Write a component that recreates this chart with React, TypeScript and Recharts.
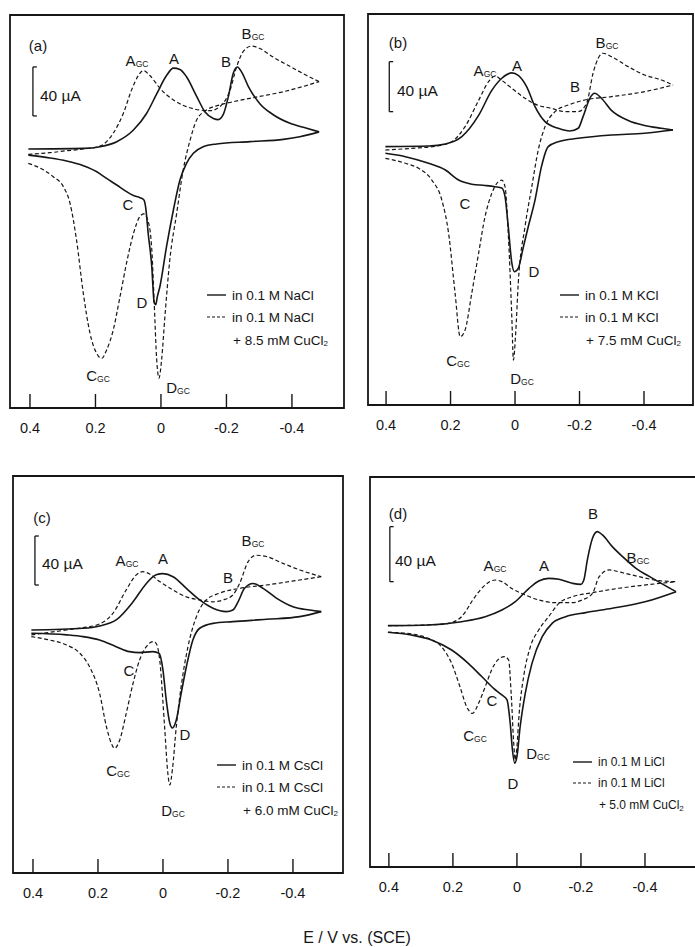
import React from "react";
import { LineChart, Line, XAxis, YAxis, ReferenceArea, ReferenceLine } from "recharts";

type Pt = [number, number]; // [E / V, I / µA]

const xTicks = [0.4, 0.2, 0, -0.2, -0.4];

// (a) 0.1 M NaCl
const aSolidFwd: Pt[] = [
  [0.405, 0], [0.237, 0.5], [0.186, 1.9], [0.135, 6], [0.084, 15.5], [0.044, 29], [0.013, 45],
  [-0.017, 60], [-0.038, 66], [-0.058, 65], [-0.078, 59], [-0.109, 43], [-0.134, 30.5], [-0.16, 25],
  [-0.175, 24], [-0.19, 28], [-0.206, 43], [-0.221, 62], [-0.233, 67], [-0.246, 63], [-0.267, 51],
  [-0.302, 37], [-0.343, 28], [-0.394, 21], [-0.445, 17], [-0.483, 14],
];
const aSolidRev: Pt[] = [
  [0.405, -5], [0.339, -7.3], [0.288, -9.8], [0.237, -13.6], [0.196, -18.5], [0.166, -24], [0.135, -29.4],
  [0.105, -34.8], [0.084, -38], [0.064, -39.7], [0.052, -41.6], [0.047, -47], [0.039, -68.8], [0.028, -96],
  [0.021, -124.6], [0.016, -127], [0.011, -120.5], [0.003, -112], [-0.017, -79.7], [-0.038, -49.8],
  [-0.058, -25.3], [-0.078, -11.7], [-0.099, -3.5], [-0.129, 1.9], [-0.17, 4.1], [-0.272, 6], [-0.374, 7.9],
  [-0.424, 10], [-0.483, 14],
];
const aDashFwd: Pt[] = [
  [0.405, -4.4], [0.339, -3], [0.288, -1.4], [0.237, 0], [0.186, 2.4], [0.146, 12.8], [0.115, 29],
  [0.09, 48], [0.069, 60], [0.054, 64], [0.034, 60], [0.003, 49.5], [-0.038, 40], [-0.078, 34.6],
  [-0.119, 31.8], [-0.15, 31.3], [-0.18, 34.6], [-0.211, 48], [-0.231, 67], [-0.251, 79.5], [-0.277, 84],
  [-0.302, 82], [-0.343, 75], [-0.404, 66], [-0.445, 60], [-0.483, 55],
];
const aDashRev: Pt[] = [
  [0.405, -11.7], [0.359, -17], [0.329, -22.6], [0.298, -30.7], [0.278, -44], [0.258, -74], [0.237, -118],
  [0.217, -150], [0.196, -167], [0.181, -171], [0.166, -164], [0.146, -148], [0.125, -120.5], [0.105, -93],
  [0.084, -69], [0.064, -55], [0.052, -53], [0.039, -59], [0.028, -82], [0.021, -123], [0.013, -172],
  [0.006, -187], [-0.002, -172], [-0.012, -137], [-0.027, -90.6], [-0.048, -52.5], [-0.068, -17],
  [-0.089, 7.3], [-0.109, 23.7], [-0.139, 31.8], [-0.18, 36], [-0.221, 38.6], [-0.272, 41.4],
  [-0.323, 44], [-0.374, 46.8], [-0.424, 50.3], [-0.483, 55],
];

// (b) 0.1 M KCl
const bSolidFwd: Pt[] = [
  [0.402, 0], [0.268, 0.5], [0.216, 2.1], [0.165, 8], [0.113, 25], [0.072, 45], [0.041, 54.7], [0.01, 59],
  [-0.01, 57], [-0.036, 48], [-0.062, 32], [-0.093, 20], [-0.134, 14.7], [-0.17, 12.5], [-0.196, 14.7],
  [-0.211, 24], [-0.232, 38.7], [-0.247, 42.7], [-0.268, 38.7], [-0.299, 29], [-0.351, 21], [-0.402, 17],
  [-0.454, 14.7], [-0.49, 13.3],
];
const bSolidRev: Pt[] = [
  [0.402, -5.3], [0.34, -8], [0.268, -13.3], [0.216, -18.7], [0.175, -26.7], [0.134, -30], [0.093, -31],
  [0.062, -32], [0.041, -33], [0.031, -40], [0.021, -64], [0.01, -93], [0.002, -100], [-0.01, -97.3],
  [-0.026, -80], [-0.041, -64], [-0.062, -42.7], [-0.082, -16], [-0.103, 0], [-0.134, 4], [-0.196, 6.7],
  [-0.299, 9.3], [-0.402, 10.7], [-0.49, 13.3],
];
const bDashFwd: Pt[] = [
  [0.402, -2.7], [0.32, -1.3], [0.237, 0.8], [0.196, 4], [0.155, 16], [0.113, 37], [0.082, 52],
  [0.062, 56.5], [0.041, 53], [0.01, 46.7], [-0.031, 38.7], [-0.072, 33], [-0.113, 30.7], [-0.155, 28],
  [-0.196, 28], [-0.222, 34.7], [-0.242, 58.7], [-0.258, 70.7], [-0.273, 74.7], [-0.299, 72],
  [-0.351, 64], [-0.402, 57.3], [-0.454, 53.3], [-0.49, 49.3],
];
const bDashRev: Pt[] = [
  [0.402, -9.3], [0.34, -13.3], [0.299, -17.3], [0.258, -26.7], [0.227, -42.7], [0.206, -69.3],
  [0.186, -117], [0.17, -152], [0.155, -146.7], [0.134, -117], [0.113, -85.3], [0.093, -56],
  [0.072, -37.3], [0.052, -28], [0.041, -26.7], [0.031, -32], [0.021, -69.3], [0.01, -136],
  [0.005, -170.7], [-0.002, -149.3], [-0.01, -109.3], [-0.031, -64], [-0.052, -32], [-0.072, -2.7],
  [-0.093, 16], [-0.124, 28], [-0.165, 33.3], [-0.216, 37.3], [-0.299, 40], [-0.402, 44], [-0.49, 49.3],
];

// (c) 0.1 M CsCl
const cSolidFwd: Pt[] = [
  [0.405, 0], [0.246, 1.4], [0.195, 3.3], [0.144, 8.2], [0.092, 23], [0.051, 38], [0.021, 45], [0, 46],
  [-0.031, 43.5], [-0.072, 34], [-0.113, 24.5], [-0.154, 17.7], [-0.195, 15], [-0.215, 16.3],
  [-0.231, 23], [-0.251, 34], [-0.277, 38], [-0.308, 34], [-0.349, 26], [-0.4, 19], [-0.451, 16.3],
  [-0.487, 15],
];
const cSolidRev: Pt[] = [
  [0.405, -2.7], [0.297, -4], [0.246, -5.4], [0.195, -8.2], [0.144, -13.6], [0.103, -17.7], [0.072, -18.5],
  [0.031, -17.7], [0.012, -19], [0, -32.7], [-0.01, -57], [-0.021, -76], [-0.029, -80], [-0.041, -73.5],
  [-0.056, -51.7], [-0.072, -30], [-0.092, -8.2], [-0.113, 1.4], [-0.154, 5.4], [-0.215, 6.8],
  [-0.318, 8.7], [-0.421, 10.9], [-0.487, 15],
];
const cDashFwd: Pt[] = [
  [0.405, -4], [0.297, 0], [0.246, 1.9], [0.195, 4.9], [0.154, 13.6], [0.113, 32.7], [0.082, 45],
  [0.062, 47.6], [0.041, 45.7], [0.01, 39.5], [-0.031, 32.7], [-0.072, 27], [-0.113, 24.5], [-0.154, 23],
  [-0.185, 24.5], [-0.215, 28.6], [-0.236, 38], [-0.262, 55.8], [-0.287, 61], [-0.318, 60],
  [-0.369, 54.4], [-0.421, 49], [-0.487, 43.5],
];
const cDashRev: Pt[] = [
  [0.405, -5.4], [0.349, -8.2], [0.297, -12.2], [0.256, -19], [0.226, -30], [0.195, -51.7], [0.174, -79],
  [0.159, -92.5], [0.149, -96.6], [0.133, -89.8], [0.113, -68], [0.092, -43.5], [0.072, -24.5],
  [0.051, -13.6], [0.031, -9.5], [0.021, -10.9], [0.01, -24.5], [-0.005, -79], [-0.015, -117],
  [-0.021, -126.5], [-0.029, -114], [-0.041, -79], [-0.056, -46], [-0.077, -13.6], [-0.103, 10.9],
  [-0.133, 24.5], [-0.174, 30], [-0.236, 34], [-0.318, 36.7], [-0.421, 40.8], [-0.487, 43.5],
];

// (d) 0.1 M LiCl
const dSolidFwd: Pt[] = [
  [0.403, 0], [0.277, 0.5], [0.173, 2.9], [0.099, 6.5], [0.047, 11.4], [0.005, 17.5], [-0.037, 27],
  [-0.068, 32.5], [-0.099, 34.4], [-0.131, 33.7], [-0.173, 30.8], [-0.199, 30], [-0.209, 33.2],
  [-0.22, 47.8], [-0.236, 63.5], [-0.251, 68.4], [-0.267, 66], [-0.298, 57.5], [-0.33, 50.2],
  [-0.372, 41.7], [-0.424, 34.4], [-0.497, 24.7],
];
const dSolidRev: Pt[] = [
  [0.403, -4.8], [0.33, -6.8], [0.267, -10.4], [0.204, -17.7], [0.152, -27.4], [0.11, -37], [0.073, -45.6],
  [0.047, -50.4], [0.031, -54], [0.021, -71], [0.014, -90.4], [0.007, -100], [0, -95.3], [-0.01, -73.5],
  [-0.026, -49.2], [-0.047, -27.4], [-0.079, -8], [-0.11, 1.7], [-0.152, 6.5], [-0.215, 9.5],
  [-0.298, 12.6], [-0.403, 17.5], [-0.497, 24.7],
];
const dDashFwd: Pt[] = [
  [0.403, 0], [0.277, 0.5], [0.215, 1.7], [0.173, 6.5], [0.131, 21], [0.099, 29.6], [0.068, 33.2],
  [0.047, 32], [0.016, 27], [-0.026, 22.3], [-0.068, 18.7], [-0.12, 16.7], [-0.173, 16.7], [-0.204, 18.7],
  [-0.236, 23.5], [-0.257, 35.6], [-0.288, 40.5], [-0.33, 38.5], [-0.382, 35.6], [-0.445, 32.7],
  [-0.497, 32],
];
const dDashRev: Pt[] = [
  [0.403, -4.8], [0.33, -6], [0.277, -9.2], [0.236, -15.3], [0.204, -27.4], [0.178, -44.4], [0.157, -58.9],
  [0.139, -63.8], [0.12, -56.5], [0.099, -44.4], [0.079, -32.2], [0.058, -24.5], [0.039, -22.5],
  [0.026, -25], [0.018, -49.2], [0.01, -85.6], [0.005, -97.7], [0, -88], [-0.007, -63.8], [-0.021, -37],
  [-0.042, -15.3], [-0.068, -3.2], [-0.099, 6.5], [-0.131, 16.2], [-0.173, 21], [-0.236, 24],
  [-0.319, 27.2], [-0.403, 29.6], [-0.497, 32],
];

// 40 µA scale bars: [E, I] at the low and high end
const aBar: Pt[] = [[0.391, 27], [0.391, 67]];
const bBar: Pt[] = [[0.39, 28], [0.39, 68]];
const cBar: Pt[] = [[0.394, 36.7], [0.394, 76.7]];
const dBar: Pt[] = [[0.397, 32], [0.397, 72]];

const INK = "#161616";
const FONT = "'Liberation Sans', Arial, Helvetica, sans-serif";

type PanelDef = {
  left: number;
  top: number;
  width: number;
  plotH: number;
  xDomain: [number, number];
  yDomain: [number, number];
  solid: Pt[][];
  dashed: Pt[][];
  bar: Pt[];
};

const panels: PanelDef[] = [
  { left: 10, top: 15, width: 334, plotH: 393, xDomain: [-0.559, 0.461], yDomain: [-211.4, 109.4],
    solid: [aSolidFwd, aSolidRev], dashed: [aDashFwd, aDashRev], bar: aBar },
  { left: 368, top: 14, width: 325, plotH: 391, xDomain: [-0.552, 0.456], yDomain: [-206.6, 106.1],
    solid: [bSolidFwd, bSolidRev], dashed: [bDashFwd, bDashRev], bar: bBar },
  { left: 13, top: 476, width: 330, plotH: 397, xDomain: [-0.554, 0.4615], yDomain: [-198.4, 125.7],
    solid: [cSolidFwd, cSolidRev], dashed: [cDashFwd, cDashRev], bar: cBar },
  { left: 370, top: 477, width: 327, plotH: 390, xDomain: [-0.5625, 0.459], yDomain: [-175.5, 108.1],
    solid: [dSolidFwd, dSolidRev], dashed: [dDashFwd, dDashRev], bar: dBar },
];

const toRows = (pts: Pt[]) => pts.map(([e, i]) => ({ e, i }));

function AxisTick(props: any) {
  const { x, y, payload } = props;
  const v = payload.value as number;
  return (
    <g>
      <line x1={x} x2={x} y1={y} y2={y - 14} stroke={INK} strokeWidth={1.4} />
      <text x={x} y={y + 20} textAnchor="middle" dominantBaseline="central" fontSize={14.5} fontFamily={FONT} fill={INK}>
        {v === 0 ? "0" : v.toFixed(1)}
      </text>
    </g>
  );
}

function Panel({ p }: { p: PanelDef }) {
  const [barLo, barHi] = p.bar;
  const serif = 0.012;
  return (
    <div style={{ position: "absolute", left: p.left - 2, top: p.top - 2 }}>
      <LineChart width={p.width + 4} height={p.plotH + 34} margin={{ top: 2, right: 2, left: 2, bottom: 0 }}>
        <XAxis
          type="number"
          dataKey="e"
          domain={p.xDomain}
          reversed
          allowDataOverflow
          ticks={xTicks}
          interval={0}
          tickLine={false}
          axisLine={false}
          tickSize={0}
          tickMargin={0}
          height={32}
          tick={(tp: any) => <AxisTick {...tp} />}
        />
        <YAxis type="number" domain={p.yDomain} hide allowDataOverflow />
        <ReferenceArea
          x1={p.xDomain[0]}
          x2={p.xDomain[1]}
          y1={p.yDomain[0]}
          y2={p.yDomain[1]}
          fill="none"
          fillOpacity={0}
          stroke={INK}
          strokeWidth={1.8}
          ifOverflow="visible"
        />
        <ReferenceLine segment={[{ x: barLo[0], y: barLo[1] }, { x: barHi[0], y: barHi[1] }]} stroke={INK} strokeWidth={1.3} />
        <ReferenceLine segment={[{ x: barLo[0], y: barLo[1] }, { x: barLo[0] - serif, y: barLo[1] }]} stroke={INK} strokeWidth={1.3} />
        <ReferenceLine segment={[{ x: barHi[0], y: barHi[1] }, { x: barHi[0] - serif, y: barHi[1] }]} stroke={INK} strokeWidth={1.3} />
        {p.solid.map((pts, k) => (
          <Line
            key={`s${k}`}
            data={toRows(pts)}
            dataKey="i"
            type="monotone"
            stroke={INK}
            strokeWidth={1.6}
            dot={false}
            isAnimationActive={false}
          />
        ))}
        {p.dashed.map((pts, k) => (
          <Line
            key={`d${k}`}
            data={toRows(pts)}
            dataKey="i"
            type="monotone"
            stroke={INK}
            strokeWidth={1.2}
            strokeDasharray="4 2.5"
            dot={false}
            isAnimationActive={false}
          />
        ))}
      </LineChart>
    </div>
  );
}

// peak labels: [main, subscript, x, y]
const peakLabels: [string, string, number, number][] = [
  ["(a)", "", 38, 45], ["A", "GC", 137, 60], ["A", "", 174, 58], ["B", "", 226, 61], ["B", "GC", 253, 33],
  ["C", "", 128, 204], ["D", "", 142, 302], ["C", "GC", 98, 375], ["D", "GC", 178, 387],
  ["(b)", "", 398, 42], ["A", "GC", 485, 70], ["A", "", 517, 65], ["B", "", 575, 86], ["B", "GC", 607, 42],
  ["C", "", 465, 203], ["D", "", 534, 271], ["C", "GC", 458, 360], ["D", "GC", 522, 378],
  ["(c)", "", 42, 517], ["A", "GC", 127, 560], ["A", "", 163, 558], ["B", "", 228, 577], ["B", "GC", 253, 540],
  ["C", "", 129, 670], ["D", "", 185, 734], ["C", "GC", 118, 770], ["D", "GC", 173, 810],
  ["(d)", "", 398, 513], ["A", "GC", 495, 565], ["A", "", 544, 565], ["B", "", 593, 513], ["B", "GC", 638, 557],
  ["C", "", 492, 700], ["C", "GC", 475, 735], ["D", "GC", 538, 753], ["D", "", 513, 783],
];

const scaleLabels: [number, number][] = [[40, 95], [397, 90], [42, 563], [395, 560]];

// legends: [salt, conc, x line start, y first row]
const legends: [string, string, number, number][] = [
  ["NaCl", "8.5", 207, 295],
  ["KCl", "7.5", 560, 295],
  ["CsCl", "6.0", 217, 765],
  ["LiCl", "5.0", 573, 762],
];

function Overlay() {
  return (
    <svg width={695} height={947} style={{ position: "absolute", left: 0, top: 0, pointerEvents: "none" }}>
      <g fontFamily={FONT} fill={INK}>
        {peakLabels.map(([m, s, x, y], k) => (
          <text key={k} x={x} y={y} textAnchor="middle" dominantBaseline="central" fontSize={15}>
            {m}
            {s && (
              <tspan fontSize={8.5} dy={4}>
                {s}
              </tspan>
            )}
          </text>
        ))}
        {scaleLabels.map(([x, y], k) => (
          <text key={`s${k}`} x={x} y={y} dominantBaseline="central" fontSize={15.5}>
            40 µA
          </text>
        ))}
        {legends.map(([salt, conc, x, y], k) => {
          const narrow = k === 3;
          const dy = narrow ? 21 : 22;
          return (
            <g key={`l${k}`} fontSize={narrow ? 12 : 13.5}>
              <line x1={x} x2={x + 19} y1={y} y2={y} stroke={INK} strokeWidth={1.4} />
              <line x1={x} x2={x + 19} y1={y + dy} y2={y + dy} stroke={INK} strokeWidth={1.1} strokeDasharray="3 2" />
              <text x={x + 25} y={y} dominantBaseline="central">{`in 0.1 M ${salt}`}</text>
              <text x={x + 25} y={y + dy} dominantBaseline="central">{`in 0.1 M ${salt}`}</text>
              <text x={x + 26} y={y + 2 * dy + 1} dominantBaseline="central">
                {`+ ${conc} mM CuCl`}
                <tspan fontSize={8} dy={3}>2</tspan>
              </text>
            </g>
          );
        })}
        <text x={357} y={937} textAnchor="middle" dominantBaseline="central" fontSize={16}>
          E / V vs. (SCE)
        </text>
      </g>
    </svg>
  );
}

export default function App() {
  return (
    <div style={{ position: "absolute", left: 0, top: 0, width: 695, height: 947, background: "#fff", overflow: "hidden" }}>
      {panels.map((p, k) => (
        <Panel key={k} p={p} />
      ))}
      <Overlay />
    </div>
  );
}
